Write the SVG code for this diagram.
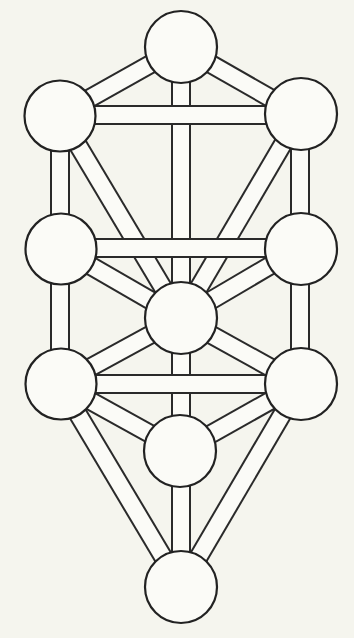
<svg xmlns="http://www.w3.org/2000/svg" width="354" height="638" viewBox="0 0 354 638">
<style>
.o{stroke:#2a2a2a;stroke-width:20;fill:none}
.i{stroke:#fbfbf7;stroke-width:16;fill:none}
.n{fill:#fbfbf7;stroke:#222;stroke-width:2.2}
</style>
<rect width="354" height="638" fill="#f5f5ee"/>
<g id="connectors">
<!-- verticals -->
<line class="o" x1="181" y1="47" x2="181" y2="318"/><line class="i" x1="181" y1="47" x2="181" y2="318"/>
<line class="o" x1="60" y1="115" x2="60" y2="248"/><line class="i" x1="60" y1="115" x2="60" y2="248"/>
<line class="o" x1="300" y1="115" x2="300" y2="248"/><line class="i" x1="300" y1="115" x2="300" y2="248"/>
<line class="o" x1="60" y1="248" x2="60" y2="384"/><line class="i" x1="60" y1="248" x2="60" y2="384"/>
<line class="o" x1="300" y1="248" x2="300" y2="384"/><line class="i" x1="300" y1="248" x2="300" y2="384"/>
<line class="o" x1="181" y1="318" x2="181" y2="451"/><line class="i" x1="181" y1="318" x2="181" y2="451"/>
<line class="o" x1="181" y1="451" x2="181" y2="587"/><line class="i" x1="181" y1="451" x2="181" y2="587"/>
<!-- diagonals -->
<line class="o" x1="181" y1="47" x2="60" y2="115"/><line class="i" x1="181" y1="47" x2="60" y2="115"/>
<line class="o" x1="181" y1="47" x2="300" y2="115"/><line class="i" x1="181" y1="47" x2="300" y2="115"/>
<line class="o" x1="60" y1="115" x2="181" y2="318"/><line class="i" x1="60" y1="115" x2="181" y2="318"/>
<line class="o" x1="300" y1="115" x2="181" y2="318"/><line class="i" x1="300" y1="115" x2="181" y2="318"/>
<line class="o" x1="60" y1="248" x2="181" y2="318"/><line class="i" x1="60" y1="248" x2="181" y2="318"/>
<line class="o" x1="300" y1="248" x2="181" y2="318"/><line class="i" x1="300" y1="248" x2="181" y2="318"/>
<line class="o" x1="181" y1="318" x2="60" y2="384"/><line class="i" x1="181" y1="318" x2="60" y2="384"/>
<line class="o" x1="181" y1="318" x2="300" y2="384"/><line class="i" x1="181" y1="318" x2="300" y2="384"/>
<line class="o" x1="60" y1="384" x2="181" y2="451"/><line class="i" x1="60" y1="384" x2="181" y2="451"/>
<line class="o" x1="300" y1="384" x2="181" y2="451"/><line class="i" x1="300" y1="384" x2="181" y2="451"/>
<line class="o" x1="60" y1="384" x2="181" y2="587"/><line class="i" x1="60" y1="384" x2="181" y2="587"/>
<line class="o" x1="300" y1="384" x2="181" y2="587"/><line class="i" x1="300" y1="384" x2="181" y2="587"/>
<!-- horizontals -->
<line class="o" x1="60" y1="115" x2="300" y2="115"/><line class="i" x1="60" y1="115" x2="300" y2="115"/>
<line class="o" x1="60" y1="248" x2="300" y2="248"/><line class="i" x1="60" y1="248" x2="300" y2="248"/>
<line class="o" x1="60" y1="384" x2="300" y2="384"/><line class="i" x1="60" y1="384" x2="300" y2="384"/>
</g>
<g id="kether"><circle class="n" cx="181" cy="47" r="36"/></g>
<g id="binah"><circle class="n" cx="60" cy="116" r="35.5"/></g>
<g id="chokmah"><circle class="n" cx="301" cy="114" r="36"/></g>
<g id="geburah"><circle class="n" cx="61" cy="249" r="35.5"/></g>
<g id="chesed"><circle class="n" cx="301" cy="249" r="36"/></g>
<g id="tiphareth"><circle class="n" cx="181" cy="318" r="36"/></g>
<g id="hod"><circle class="n" cx="61" cy="384" r="35.5"/></g>
<g id="netzach"><circle class="n" cx="301" cy="384" r="36"/></g>
<g id="yesod"><circle class="n" cx="180" cy="451" r="36"/></g>
<g id="malkuth"><circle class="n" cx="181" cy="587" r="36"/></g>
</svg>
